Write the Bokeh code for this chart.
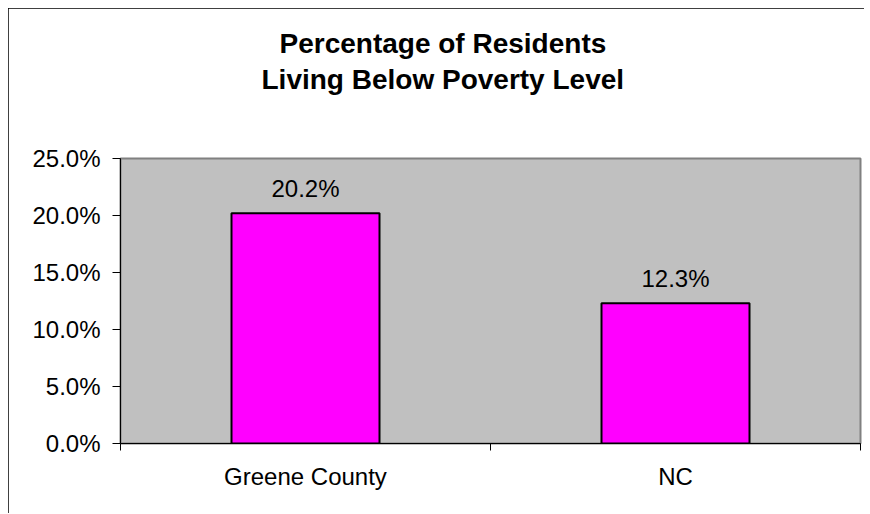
from bokeh.plotting import figure
from bokeh.models import Range1d, FixedTicker, PrintfTickFormatter, ColumnDataSource, LabelSet, Title
from bokeh.core.properties import value
from bokeh.embed import file_html
from bokeh.resources import INLINE

categories = ["Greene County", "NC"]
values = [20.2, 12.3]
y_ticks = [0, 5, 10, 15, 20, 25]
title_lines = ["Percentage of Residents", "Living Below Poverty Level"]

FONT = "Liberation Sans"

x_pos = [i + 0.5 for i in range(len(categories))]
labels = [f"{v:.1f}%" for v in values]
src = ColumnDataSource(dict(x=x_pos, top=values, label=labels))

p = figure(width=856, height=506, output_backend="svg", toolbar_location=None,
           x_range=Range1d(0, len(categories)), y_range=Range1d(y_ticks[0], y_ticks[-1]),
           min_border_left=112, min_border_right=4, min_border_top=150, min_border_bottom=71)
p.title = None
p.styles = {"margin": "8px 0 0 8px", "outline": "1px solid black", "outline-offset": "-1px",
            "clip-path": "inset(0 0 1px 0)"}
p.background_fill_color = "#C0C0C0"
p.border_fill_color = "white"
p.outline_line_color = "#808080"
p.outline_line_width = 2
p.xgrid.visible = False
p.ygrid.visible = False

# title: spacer nearest the frame, then second line, then first line
p.add_layout(Title(text=" ", text_font_size="1px", standoff=61), "above")
for line, off, so in zip(reversed(title_lines), [141, 159], [0, 6]):
    p.add_layout(Title(text=line, align="left", offset=off, standoff=so,
                       text_font=FONT, text_font_size="28px", text_font_style="bold",
                       text_color="black"), "above")

p.vbar(x="x", top="top", width=0.4, source=src, fill_color="#FF00FF",
       line_color="black", line_width=2)

p.add_layout(LabelSet(x="x", y="top", text="label", source=src, y_offset=16,
                      text_align="center", text_baseline="alphabetic",
                      text_font=value(FONT), text_font_size=value("24px"),
                      text_color="black"))

# y axis
p.yaxis.ticker = FixedTicker(ticks=y_ticks, minor_ticks=[])
p.yaxis.formatter = PrintfTickFormatter(format="%.1f%%")
p.yaxis.major_tick_out = 8
p.yaxis.major_tick_in = 0
p.yaxis.minor_tick_out = 0
p.yaxis.minor_tick_in = 0
p.yaxis.major_label_standoff = 12
p.yaxis.axis_line_color = "black"
p.yaxis.major_tick_line_color = "black"
p.yaxis.major_label_text_font = FONT
p.yaxis.major_label_text_font_size = "24px"
p.yaxis.major_label_text_color = "black"

# x axis
p.xaxis.ticker = FixedTicker(ticks=x_pos, minor_ticks=list(range(len(categories) + 1)))
p.xaxis.major_label_overrides = {x: c for x, c in zip(x_pos, categories)}
p.xaxis.major_tick_out = 0
p.xaxis.major_tick_in = 0
p.xaxis.minor_tick_out = 7
p.xaxis.minor_tick_in = 0
p.xaxis.minor_tick_line_color = "black"
p.xaxis.axis_line_color = "black"
p.xaxis.major_label_standoff = 12
p.xaxis.major_label_text_font = FONT
p.xaxis.major_label_text_font_size = "24px"
p.xaxis.major_label_text_color = "black"

open("out.html", "w").write(file_html(p, INLINE))
